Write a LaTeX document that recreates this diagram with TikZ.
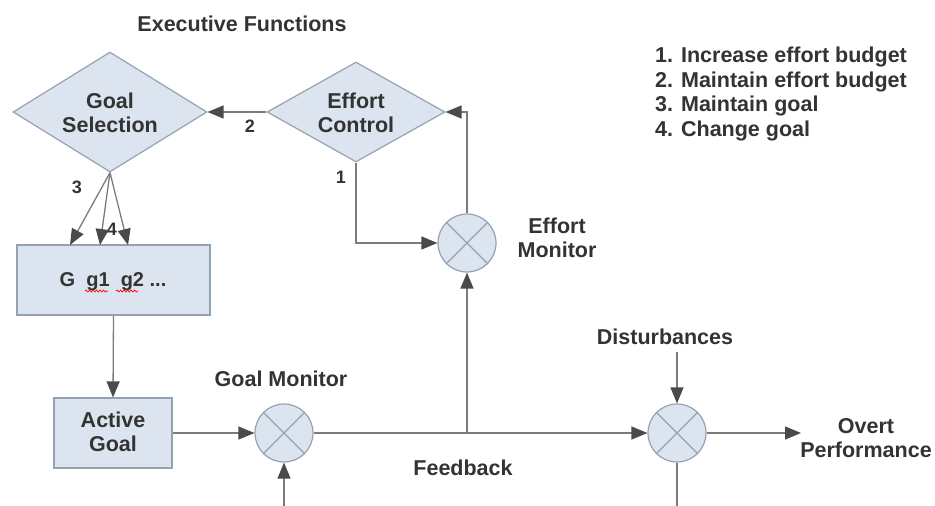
\documentclass[tikz,border=0pt]{standalone}
\usepackage{fontspec}
\setmainfont{Liberation Sans}
\usetikzlibrary{arrows.meta,shapes.geometric,decorations.pathmorphing}
\definecolor{boxfill}{HTML}{DCE5EF}
\definecolor{boxline}{HTML}{94A2B1}
\definecolor{wire}{HTML}{7C7C7C}
\definecolor{tipc}{HTML}{4A4A4A}
\definecolor{txt}{HTML}{333333}
\begin{document}
\begin{tikzpicture}[x=1pt,y=-1pt,
  lbl/.style={font=\fontsize{21.5}{24.5}\selectfont\bfseries, text=txt, align=center, inner sep=0pt},
  num/.style={font=\fontsize{18}{20}\selectfont\bfseries, text=txt, inner sep=0pt},
  dia/.style={diamond, draw=boxline, fill=boxfill, line width=1.2pt, inner sep=0pt},
  blk/.style={rectangle, draw=boxline, fill=boxfill, line width=1.2pt, inner sep=0pt},
  junc/.style={circle, draw=boxline, fill=boxfill, line width=1.2pt, minimum size=58pt, inner sep=0pt},
  wirel/.style={draw=wire, line width=1.3pt},
  arr/.style={wirel, -{Triangle[length=16pt,width=13pt,fill=tipc,color=tipc]}},
  squig/.style={red, line width=0.7pt, decorate, decoration={snake,amplitude=1pt,segment length=3.5pt}}
]
\useasboundingbox (0,0) rectangle (935,506);
\clip (0,0) rectangle (935,506);

% title and legend
\node[lbl] (title) at (242,24) {Executive Functions};
\node[lbl, align=left, anchor=north west] (legend) at (655,47)
  {1. Increase effort budget\\2. Maintain effort budget\\3. Maintain goal\\4. Change goal};

% diamonds
\node[dia, minimum width=194pt, minimum height=120pt] (gs) at (110,112) {};
\node[lbl] (gstext) at (110,113) {Goal\\Selection};
\node[dia, minimum width=178pt, minimum height=100pt] (ec) at (356,112) {};
\node[lbl] (ectext) at (356,113) {Effort\\Control};

% boxes
\node[blk, minimum width=193pt, minimum height=70pt] (gbox) at (113.5,280) {};
\node[lbl, font=\fontsize{20}{24}\selectfont\bfseries] (gtext) at (113,282) {G\ \ g1\ \ g2 ...};
\draw[squig] (85,291) -- (108,291);
\draw[squig] (116,291) -- (138,291);
\node[blk, minimum width=118pt, minimum height=70pt] (ag) at (113,433) {};
\node[lbl] (agtext) at (113,432) {Active\\Goal};

% junctions
\node[junc] (gm) at (284,433) {};
\node[junc] (em) at (467,243) {};
\node[junc] (dj) at (677,433) {};
\foreach \c in {gm,em,dj} {
  \draw[boxline, line width=1.2pt] (\c.45) -- (\c.225) (\c.135) -- (\c.-45);
}

% labels
\node[lbl] (gmlbl) at (281,379) {Goal Monitor};
\node[lbl] (emlbl) at (557,238) {Effort\\Monitor};
\node[lbl] (dlbl) at (665,337) {Disturbances};
\node[lbl] (oplbl) at (866,438) {Overt\\Performance};
\node[lbl] (fblbl) at (463,468) {Feedback};
\node[num] (n1) at (341,177) {1};
\node[num] (n2) at (250,126) {2};
\node[num] (n3) at (77,187) {3};
\node[num] (n4) at (112,229) {4};

% coordinates
\coordinate (g3) at (70,245);
\coordinate (g4a) at (100,245);
\coordinate (g4b) at (128,245);
\coordinate (branch) at (em.south |- gm.east);
\coordinate (ecturn) at (ec.south |- em.west);
\coordinate (emturn) at (em.north |- ec.east);
\coordinate (dtop) at (677,352);
\coordinate (opend) at (801,433);
\coordinate (fb1) at (677,512);
\coordinate (fb2) at (284,512);

% connectors
\draw[arr] (ec.west) -- (gs.east);
\draw[arr] (ec.south) -- (ecturn) -- (em.west);
\draw[arr] (em.north) -- (emturn) -- (ec.east);
\draw[arr] (gs.south) -- (g3);
\draw[arr] (gs.south) -- (g4a);
\draw[arr] (gs.south) -- (g4b);
\draw[arr] (gbox.south) -- (ag.north);
\draw[arr] (ag.east) -- (gm.west);
\draw[arr] (gm.east) -- (dj.west);
\draw[arr] (branch) -- (em.south);
\draw[arr] (dtop) -- (dj.north);
\draw[arr] (dj.east) -- (opend);
\draw[arr] (dj.south) -- (fb1) -- (fb2) -- (gm.south);
\end{tikzpicture}
\end{document}
